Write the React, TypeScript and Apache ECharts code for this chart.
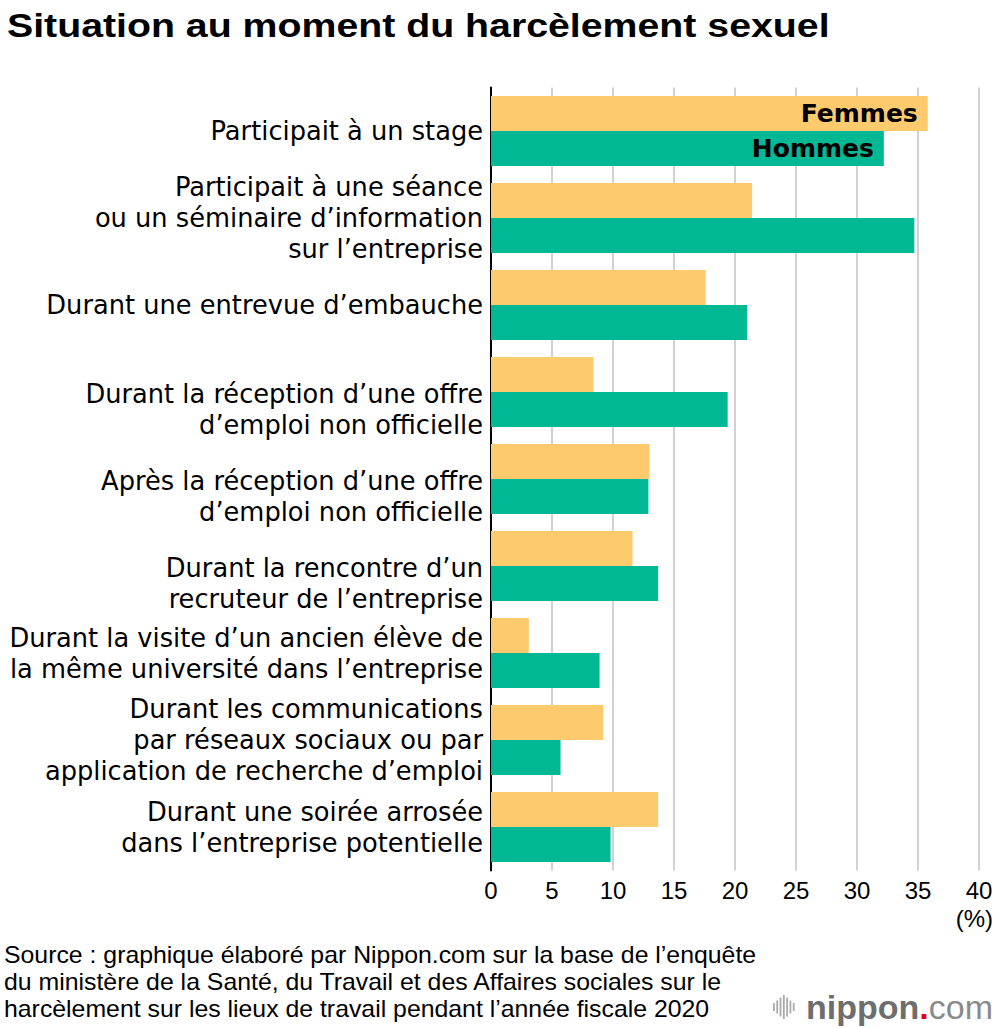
import React, { useEffect, useRef } from "react";
import * as echarts from "echarts";

const categories = [
  "Participait à un stage",
  "Participait à une séance\nou un séminaire d’information\nsur l’entreprise",
  "Durant une entrevue d’embauche",
  "Durant la réception d’une offre\nd’emploi non officielle",
  "Après la réception d’une offre\nd’emploi non officielle",
  "Durant la rencontre d’un\nrecruteur de l’entreprise",
  "Durant la visite d’un ancien élève de\nla même université dans l’entreprise",
  "Durant les communications\npar réseaux sociaux ou par\napplication de recherche d’emploi",
  "Durant une soirée arrosée\ndans l’entreprise potentielle",
];
const shiftedLabels = [3, 4, 5];
const femmes = [35.8, 21.4, 17.6, 8.4, 13.0, 11.6, 3.1, 9.2, 13.7];
const hommes = [32.2, 34.7, 21.0, 19.4, 12.9, 13.7, 8.9, 5.7, 9.8];
const xTicks = [0, 5, 10, 15, 20, 25, 30, 35, 40];
const seriesNames = ["Femmes", "Hommes"];
const title = "Situation au moment du harcèlement sexuel";
const unitLabel = "(%)";
const sourceLines = [
  "Source : graphique élaboré par Nippon.com sur la base de l’enquête",
  "du ministère de la Santé, du Travail et des Affaires sociales sur le",
  "harcèlement sur les lieux de travail pendant l’année fiscale 2020",
];

const FONT = "'Liberation Sans', Arial, Helvetica, sans-serif";
const LFONT = "'DejaVu Sans', Verdana, sans-serif";
const C_F = "#FDCA6E";
const C_H = "#00B894";

export default function App() {
  const ref = useRef<HTMLDivElement>(null);
  useEffect(() => {
    if (!ref.current) return;
    const chart = echarts.init(ref.current, null, { renderer: "svg" });
    const logoBars = [8, 13, 19, 24, 19, 13, 8];
    const graphics: any[] = [
      {
        type: "text",
        x: 7,
        y: 9,
        scaleX: 1.19,
        style: { text: title, font: `bold 33px ${FONT}`, fill: "#000", verticalAlign: "top", align: "left" },
      },
      {
        type: "text",
        x: 993,
        y: 918,
        style: { text: unitLabel, font: `24px ${FONT}`, fill: "#000", verticalAlign: "middle", align: "right" },
      },
      ...sourceLines.map((t, i) => ({
        type: "text",
        x: 4,
        y: 943.5 + i * 26.8,
        scaleX: 1.08,
        style: { text: t, font: `23px ${FONT}`, fill: "#000", verticalAlign: "top", align: "left" },
      })),
      ...logoBars.map((h, i) => ({
        type: "rect",
        shape: { x: 773 + i * 3.3, y: 1007 - h / 2, width: 1.8, height: h },
        style: { fill: "#aaa" },
      })),
      {
        type: "text",
        x: 806,
        y: 989.5,
        style: {
          text: "{n|nippon}{d|.}{c|com}",
          verticalAlign: "top",
          align: "left",
          rich: {
            n: { font: `bold 34px ${FONT}`, fill: "#6e6e6e" },
            d: { font: `bold 34px ${FONT}`, fill: "#e60012" },
            c: { font: `34px ${FONT}`, fill: "#8a8a8a" },
          },
        },
      },
    ];
    const nameLabel = (name: string) => ({
      show: true,
      position: "insideRight",
      distance: 10,
      formatter: name,
      color: "#000",
      fontSize: 25,
      fontWeight: "bold",
      fontFamily: LFONT,
    });
    chart.setOption({
      animation: false,
      textStyle: { fontFamily: FONT },
      grid: { left: 491, right: 21, top: 87.5, bottom: 157.5, containLabel: false },
      graphic: graphics,
      xAxis: {
        type: "value",
        min: 0,
        max: 40,
        interval: 5,
        axisLine: { show: false },
        axisTick: { show: false },
        splitLine: { show: true, lineStyle: { color: "#d2d2d2", width: 2 } },
        axisLabel: {
          color: "#000",
          fontSize: 24,
          fontFamily: FONT,
          margin: 8,
          formatter: (v: number) => (xTicks.includes(v) ? String(v) : ""),
        },
      },
      yAxis: {
        type: "category",
        inverse: true,
        data: categories,
        axisLine: { show: true, lineStyle: { color: "#000", width: 2 } },
        axisTick: { show: false },
        axisLabel: {
          color: "#000",
          fontSize: 25.7,
          fontFamily: LFONT,
          lineHeight: 31,
          margin: 8,
          align: "right",
          formatter: (value: string, index: number) =>
            shiftedLabels.includes(index) ? "{g| }\n" + value : value,
          rich: { g: { lineHeight: 34, fontSize: 2 } },
        },
      },
      series: [
        {
          name: seriesNames[0],
          type: "bar",
          data: femmes.map((v, i) => (i === 0 ? { value: v, label: nameLabel(seriesNames[0]) } : v)),
          itemStyle: { color: C_F },
          barGap: "0%",
          barCategoryGap: "19.5%",
          z: 3,
        },
        {
          name: seriesNames[1],
          type: "bar",
          data: hommes.map((v, i) => (i === 0 ? { value: v, label: nameLabel(seriesNames[1]) } : v)),
          itemStyle: { color: C_H },
          barGap: "0%",
          barCategoryGap: "19.5%",
          z: 3,
        },
      ],
    });
    return () => chart.dispose();
  }, []);
  return (
    <div
      ref={ref}
      style={{ position: "absolute", left: 0, top: 0, width: 1000, height: 1028, background: "#fff" }}
    />
  );
}
